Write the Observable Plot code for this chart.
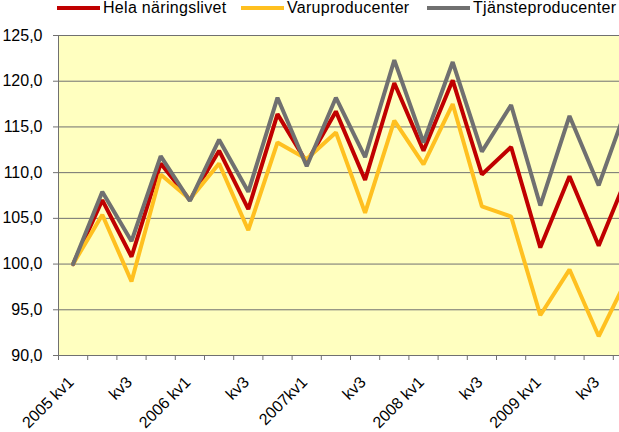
<!DOCTYPE html>
<html><head><meta charset="utf-8">
<script src="https://cdn.jsdelivr.net/npm/d3@7"></script>
<script src="https://cdn.jsdelivr.net/npm/@observablehq/plot@0.6"></script>
<style>
body{margin:0;background:#fff;font-family:Arial,"Liberation Sans",sans-serif;}
#legend{position:relative;height:22px;width:619px;font-size:16px;letter-spacing:0.3px;color:#000;}
.item{position:absolute;top:0;display:flex;align-items:center;height:15px;line-height:15px;white-space:nowrap;}
.sw{width:43px;height:4px;margin-right:3px;}
</style></head><body>
<div id="legend"></div><div id="chart"></div>
<script>
const quarters = ["2005 kv1","2005 kv2","2005 kv3","2005 kv4","2006 kv1","2006 kv2","2006 kv3","2006 kv4","2007 kv1","2007 kv2","2007 kv3","2007 kv4","2008 kv1","2008 kv2","2008 kv3","2008 kv4","2009 kv1","2009 kv2","2009 kv3","2009 kv4"];
const seriesNames = ["Hela näringslivet","Varuproducenter","Tjänsteproducenter"];
const hela   = [100, 107.0, 100.8, 111.0, 107.0, 112.4, 106.0, 116.4, 111.1, 116.7, 109.2, 119.8, 112.4, 120.1, 109.8, 112.8, 101.8, 109.6, 102.0, 109.8];
const varu   = [100, 105.4, 98.1, 109.8, 107.1, 111.0, 103.7, 113.3, 111.5, 114.4, 105.6, 115.7, 110.9, 117.5, 106.3, 105.2, 94.4, 99.4, 92.1, 98.6];
const tjanst = [100, 107.9, 102.5, 111.8, 106.9, 113.6, 107.9, 118.2, 110.7, 118.2, 111.7, 122.3, 113.3, 122.1, 112.3, 117.4, 106.4, 116.2, 108.6, 117.5];
const tickLabels = ["2005 kv1","kv3","2006 kv1","kv3","2007kv1","kv3","2008 kv1","kv3","2009 kv1","kv3"];
const tickLabelIdx = [0,2,4,6,8,10,12,14,16,18];
const yTicks = [90,95,100,105,110,115,120,125];
const colors = ["#C00000","#FFC020","#707070"];

const legendPos = [57, 241, 427];
const legend = document.getElementById("legend");
seriesNames.forEach((n,k)=>{
  const it = document.createElement("div");
  it.className="item"; it.style.left = legendPos[k]+"px";
  it.innerHTML = `<span class="sw" style="background:${colors[k]}"></span><span>${n}</span>`;
  legend.appendChild(it);
});

const values = [hela, varu, tjanst];
const data = seriesNames.flatMap((s,k)=>quarters.map((q,i)=>({i, q, s, v: values[k][i]})));
const boundaries = d3.range(-0.5, 19, 1);

const chart = Plot.plot({
  width: 619, height: 410,
  marginLeft: 58, marginRight: 0, marginTop: 13, marginBottom: 77,
  style: {fontFamily: "Arial, 'Liberation Sans', sans-serif", fontSize: "16px", color: "#000", background: "#fff", overflow: "visible"},
  x: {type: "linear", domain: [-0.5, 19.5], range: [58, 642]},
  y: {domain: [90, 125]},
  color: {domain: seriesNames, range: colors},
  marks: [
    Plot.frame({fill: "#FFFFC0", stroke: null}),
    Plot.gridY(yTicks, {stroke: "#707070", strokeOpacity: 1, strokeWidth: 1}),
    Plot.ruleX([-0.5], {stroke: "#707070", strokeWidth: 1}),
    Plot.axisY(yTicks, {tickSize: 5, tickPadding: 11, stroke: "#707070", tickFormat: d => d.toFixed(1).replace(".", ","), label: null}),
    Plot.axisX(boundaries, {tickSize: 5, stroke: "#707070", tickFormat: () => "", label: null}),
    Plot.axisX(tickLabelIdx, {tickSize: 0, tickPadding: 24, dx: -2, tickRotate: -45, tickFormat: d => tickLabels[tickLabelIdx.indexOf(d)], label: null}),
    Plot.line(data, {x: "i", y: "v", z: "s", stroke: "s", strokeWidth: 4, strokeLinejoin: "miter", clip: true})
  ]
});
document.getElementById("chart").appendChild(chart);
</script>
</body></html>
